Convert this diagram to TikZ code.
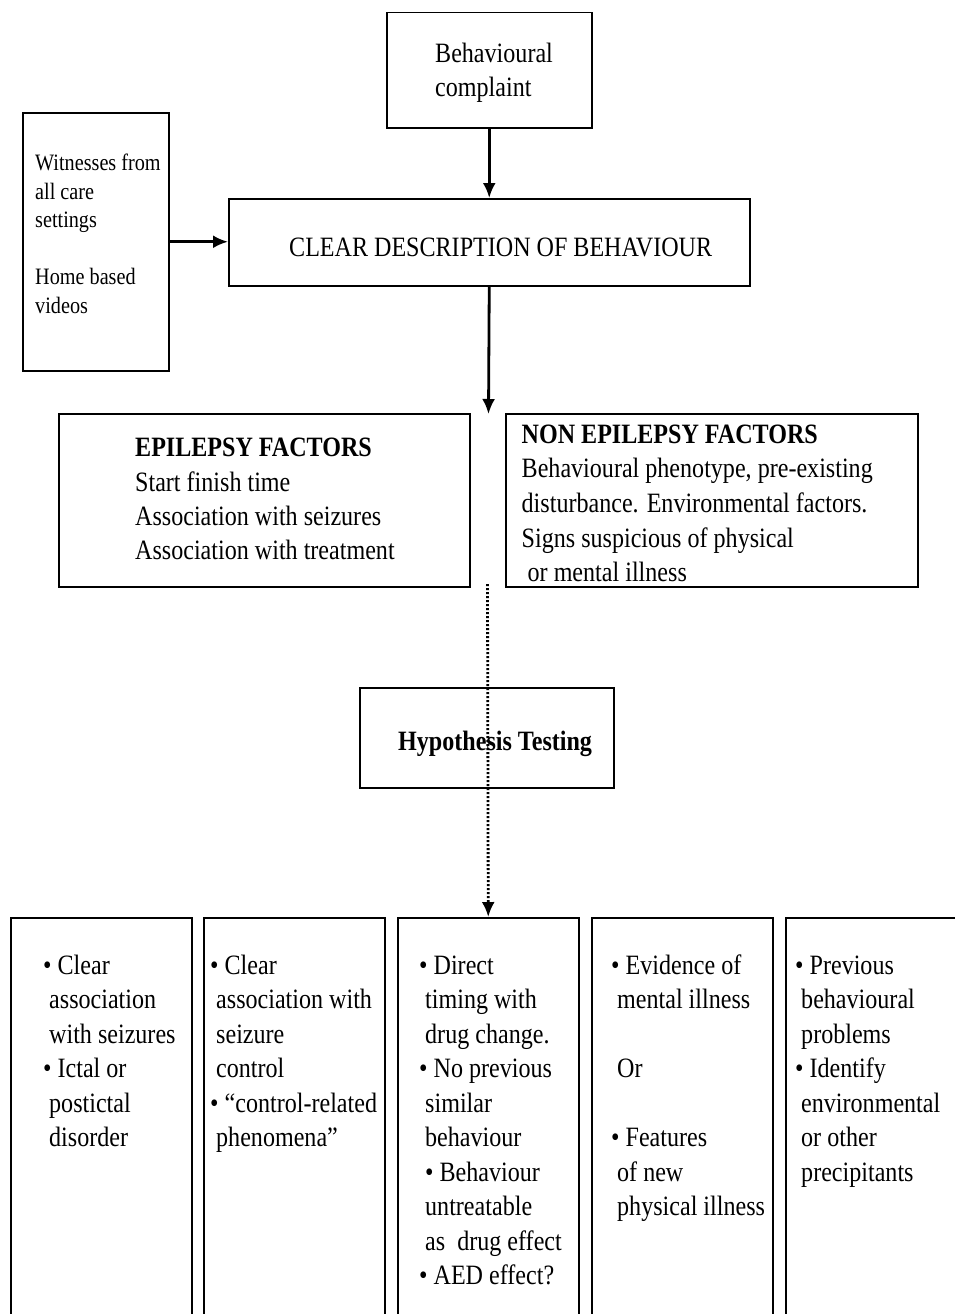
\documentclass[tikz,border=0pt]{standalone}
\usepackage{fontspec}
\setmainfont[FakeStretch=0.86]{Liberation Serif}
\usepackage{tikz}
\usetikzlibrary{arrows.meta}
\tikzstyle{block} = [draw, line width=1.5pt, inner sep=0pt, anchor=north west]
\tikzstyle{body} = [anchor=north west, inner sep=0pt, align=left, font=\fontsize{28}{34.5}\selectfont]
\tikzstyle{arrow} = [->, line width=2.8pt]
\tikzstyle{dotarrow} = [->, line width=2.8pt, dash pattern=on 2.2pt off 1.8pt]
\newcommand{\subline}{\hspace*{6pt}}

\begin{document}
\begin{tikzpicture}[x=1pt, y=-1pt, >={Latex[length=15pt,width=13pt]}]

    \clip (0,0) rectangle (955,1314);
    \fill[white] (0,0) rectangle (955,1314);

    % Complaint and description
    \node[block, minimum width=205pt, minimum height=115pt] (complaint) at (386,12) {};
    \node[body] (complaint text) at (435,37.85) {\strut Behavioural\\complaint};

    \node[block, minimum width=521pt, minimum height=87pt] (desc) at (228,198) {};
    \node[body, anchor=base west] (desc text) at (289,256) {CLEAR DESCRIPTION OF BEHAVIOUR};

    % Sources of information
    \node[block, minimum width=146pt, minimum height=258pt] (witness) at (22,112) {};
    \node[body, font=\fontsize{23.5}{28.5}\selectfont] (witness text) at (35,150.5) {\strut Witnesses from\\all care\\settings\\\mbox{}\\Home based\\videos};

    % The two groups of factors
    \node[block, minimum width=411pt, minimum height=173pt] (epi) at (58,413) {};
    \node[body, font=\fontsize{28}{34.3}\selectfont] (epi text) at (135,432.5) {\strut\textbf{EPILEPSY FACTORS}\\Start finish time\\Association with seizures\\Association with treatment};

    \node[block, minimum width=412pt, minimum height=173pt] (nonepi) at (505,413) {};
    \node[body, font=\fontsize{28}{34.7}\selectfont] (nonepi text) at (521.5,418.7) {\strut\textbf{NON EPILEPSY FACTORS}\\Behavioural phenotype, pre-existing\\disturbance. Environmental factors.\\Signs suspicious of physical\\\subline or mental illness};

    % Hypothesis box
    \node[block, minimum width=254pt, minimum height=100pt] (hypo) at (359,687) {};
    \node[body, anchor=base west] (hypo text) at (398,750) {\textbf{Hypothesis Testing}};

    % Outcome columns, open at the bottom
    \foreach \x [count=\i] in {10,203,397,591,785}
        \node[block, minimum width=181pt, minimum height=420pt] (col\i) at (\x,917) {};

    \node[body] (col1 text) at (43,949.85) {\strut • Clear\\\subline association\\\subline with seizures\\• Ictal or\\\subline postictal\\\subline disorder};
    \node[body] (col2 text) at (210,949.85) {\strut • Clear\\\subline association with\\\subline seizure\\\subline control\\• “control-related\\\subline phenomena”};
    \node[body] (col3 text) at (419,949.85) {\strut • Direct\\\subline timing with\\\subline drug change.\\• No previous\\\subline similar\\\subline behaviour\\\subline • Behaviour\\\subline untreatable\\\subline as\ \ drug effect\\• AED effect?};
    \node[body] (col4 text) at (611,949.85) {\strut • Evidence of\\\subline mental illness\\\mbox{}\\\subline Or\\\mbox{}\\• Features\\\subline of new\\\subline physical illness};
    \node[body] (col5 text) at (795,949.85) {\strut • Previous\\\subline behavioural\\\subline problems\\• Identify\\\subline environmental\\\subline or other\\\subline precipitants};

    % Connectors
    \coordinate (fork) at (488.5,414);
    \coordinate (split) at (487.5,584);
    \draw[arrow] (complaint) -- (desc);
    \draw[arrow] (witness.east) -- (witness.east -| desc.west);
    \draw[arrow] (desc.south) -- (fork);
    \draw[dotarrow] (split) -- (col3.north);

\end{tikzpicture}
\end{document}
